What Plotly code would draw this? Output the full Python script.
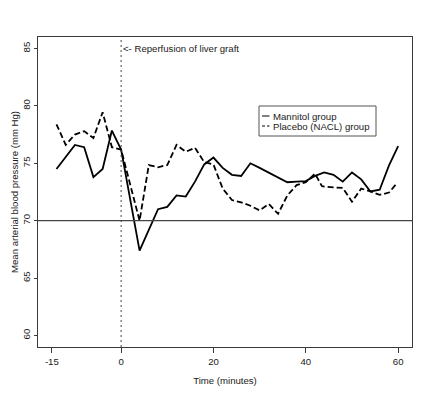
import plotly.graph_objects as go

# ---- data ----
mannitol_time = [-14, -12, -10, -8, -6, -4, -2, 0, 2, 4, 6, 8, 10, 12, 14, 16, 18, 20, 22, 24,
                 26, 28, 30, 32, 34, 36, 38, 40, 42, 44, 46, 48, 50, 52, 54, 56, 58, 60]
mannitol_map = [74.5, 75.6, 76.6, 76.4, 73.8, 74.5, 77.85, 76.2, 71.8, 67.4, 69.2, 71.0, 71.2, 72.2,
                72.1, 73.4, 74.9, 75.5, 74.6, 74.0, 73.9, 75.0, 74.6, 74.2, 73.8, 73.35, 73.4, 73.45,
                73.9, 74.2, 74.0, 73.4, 74.2, 73.6, 72.55, 72.7, 74.8, 76.5]

placebo_time = [-14, -12, -10, -8, -6, -4, -2, 0, 2, 4, 6, 8, 10, 12, 14, 16, 18, 20, 22, 24,
                26, 28, 30, 32, 34, 36, 38, 40, 42, 43.5, 46, 48, 50, 52, 54, 56, 58, 59.5]
placebo_map = [78.4, 76.6, 77.5, 77.8, 77.2, 79.45, 76.4, 76.2, 73.1, 70.0, 74.85, 74.65, 74.85, 76.6,
               76.0, 76.35, 75.1, 74.9, 72.8, 71.8, 71.6, 71.3, 70.9, 71.45, 70.6, 72.2, 73.1, 73.35,
               74.1, 73.0, 72.9, 72.85, 71.65, 72.8, 72.55, 72.25, 72.45, 73.15]

series_names = ["Mannitol group", "Placebo (NACL) group"]
x_ticks = [-15, 0, 20, 40, 60]
y_ticks = [60, 65, 70, 75, 80, 85]
reference_level = 70
reperfusion_time = 0
annotation_text = "<- Reperfusion of liver graft"
x_title = "Time (minutes)"
y_title = "Mean arterial blood pressure (mm Hg)"

# ---- styling ----
FONT = "Liberation Sans, Arial, Helvetica, sans-serif"
FS = 9.6
INK = "#1a1a1a"
FRAME = "#3a3a3a"
W, H = 432, 395
PAGE_OFF = 8  # default body margin of the html page
# target plot box in window pixels: left 38, right 412, top 37, bottom 347
ML = 38 - PAGE_OFF
MT = 37 - PAGE_OFF
MR = W - (412 - PAGE_OFF)
MB = H - (347 - PAGE_OFF)
PW, PH = W - ML - MR, H - MT - MB


def px_x(p):
    return (p - PAGE_OFF - ML) / PW


def px_y(p):
    return 1 - (p - PAGE_OFF - MT) / PH


dashes = ["solid", "6px,3px"]

fig = go.Figure()
fig.add_trace(go.Scatter(x=mannitol_time, y=mannitol_map, mode="lines", name=series_names[0],
                         line=dict(color="black", width=1.8, dash=dashes[0]), showlegend=False))
fig.add_trace(go.Scatter(x=placebo_time, y=placebo_map, mode="lines", name=series_names[1],
                         line=dict(color="black", width=1.8, dash=dashes[1]), showlegend=False))

shapes = [
    dict(type="line", xref="paper", yref="y", x0=0, x1=1, y0=reference_level, y1=reference_level,
         line=dict(color="#444444", width=1.2)),
    dict(type="line", xref="x", yref="paper", x0=reperfusion_time, x1=reperfusion_time, y0=0, y1=1,
         line=dict(color="#444444", width=1, dash="2px,3px")),
]

# custom legend (R style compact box)
lg_left, lg_right, lg_top, lg_bottom = 259, 376, 106, 136
shapes.append(dict(type="rect", xref="paper", yref="paper",
                   x0=px_x(lg_left), x1=px_x(lg_right), y0=px_y(lg_bottom), y1=px_y(lg_top),
                   line=dict(color="#555555", width=1), fillcolor="white", layer="above"))
annotations = []
entry_y = [116, 126]
for name, dsh, ey in zip(series_names, ["solid", "3px,2px"], entry_y):
    shapes.append(dict(type="line", xref="paper", yref="paper", x0=px_x(262), x1=px_x(269.5),
                       y0=px_y(ey), y1=px_y(ey), line=dict(color="black", width=1, dash=dsh),
                       layer="above"))
    annotations.append(dict(text=name, xref="paper", yref="paper", x=px_x(271), y=px_y(ey),
                            xanchor="left", yanchor="middle", showarrow=False,
                            font=dict(family=FONT, size=FS, color=INK)))

annotations.append(dict(text=annotation_text, xref="x", yref="y", x=reperfusion_time, y=85,
                        xanchor="left", yanchor="middle", xshift=0, showarrow=False,
                        font=dict(family=FONT, size=FS, color=INK)))

fig.update_layout(
    width=W, height=H,
    margin=dict(l=ML, r=MR, t=MT, b=MB, pad=0, autoexpand=False),
    paper_bgcolor="white", plot_bgcolor="white",
    font=dict(family=FONT, size=FS, color=INK),
    shapes=shapes, annotations=annotations,
    xaxis=dict(range=[-18, 63], tickvals=x_ticks, ticktext=[str(v) for v in x_ticks],
               automargin=False,
               showgrid=False, zeroline=False, showline=True, mirror=True,
               linecolor=FRAME, linewidth=1, ticks="outside", ticklen=5, tickcolor=FRAME,
               tickfont=dict(family=FONT, size=FS, color=INK),
               title=dict(text=x_title, font=dict(family=FONT, size=FS, color=INK), standoff=11)),
    yaxis=dict(range=[59, 86], tickvals=y_ticks, ticktext=[str(v) for v in y_ticks],
               automargin=False,
               showgrid=False, zeroline=False, showline=True, mirror=True,
               linecolor=FRAME, linewidth=1, ticks="outside", ticklen=3, tickcolor=FRAME,
               tickangle=-90, ticklabelstandoff=0, tickfont=dict(family=FONT, size=FS, color=INK),
               title=dict(text=y_title, font=dict(family=FONT, size=FS, color=INK), standoff=0)),
)

fig.write_html("out.html")
